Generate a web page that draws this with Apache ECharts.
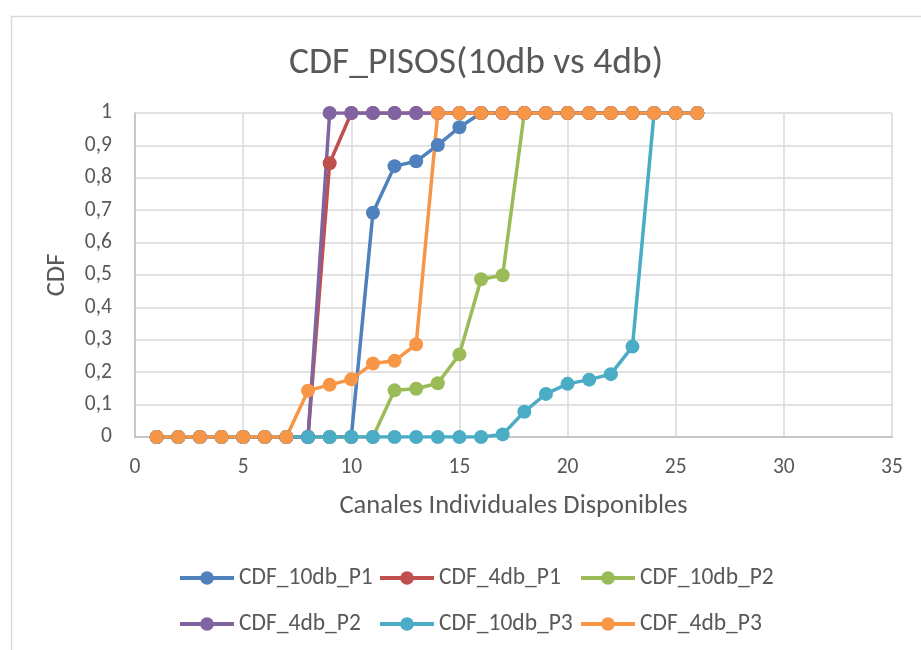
<!DOCTYPE html>
<html>
<head>
<meta charset="utf-8">
<script src="https://cdn.jsdelivr.net/npm/echarts@6/dist/echarts.min.js"></script>
<style>html,body{margin:0;padding:0;background:#fff}#c{width:921px;height:650px}</style>
</head>
<body>
<div id="c"></div>
<script>
var xValues = [1,2,3,4,5,6,7,8,9,10,11,12,13,14,15,16,17,18,19,20,21,22,23,24,25,26];
var cdf10dbP1 = [0,0,0,0,0,0,0,0,0,0,0.692,0.836,0.851,0.901,0.956,1,1,1,1,1,1,1,1,1,1,1];
var cdf4dbP1  = [0,0,0,0,0,0,0,0,0.845,1,1,1,1,1,1,1,1,1,1,1,1,1,1,1,1,1];
var cdf10dbP2 = [0,0,0,0,0,0,0,0,0,0,0,0.144,0.149,0.166,0.255,0.487,0.499,1,1,1,1,1,1,1,1,1];
var cdf4dbP2  = [0,0,0,0,0,0,0,0,1,1,1,1,1,1,1,1,1,1,1,1,1,1,1,1,1,1];
var cdf10dbP3 = [0,0,0,0,0,0,0,0,0,0,0,0,0,0,0,0,0.008,0.078,0.133,0.164,0.177,0.194,0.279,1,1,1];
var cdf4dbP3  = [0,0,0,0,0,0,0,0.143,0.161,0.178,0.227,0.235,0.286,1,1,1,1,1,1,1,1,1,1,1,1,1];
var seriesNames = ['CDF_10db_P1','CDF_4db_P1','CDF_10db_P2','CDF_4db_P2','CDF_10db_P3','CDF_4db_P3'];
var seriesData = [cdf10dbP1, cdf4dbP1, cdf10dbP2, cdf4dbP2, cdf10dbP3, cdf4dbP3];
var colors = ['#4f81bd','#c0504d','#9bbb59','#8064a2','#4bacc6','#f79646'];
var titleText = 'CDF_PISOS(10db vs 4db)';
var xAxisName = 'Canales Individuales Disponibles';
var yAxisName = 'CDF';

var FONT = "Carlito, Calibri, 'Open Sans', sans-serif";
var TXT = '#595959';

function pairs(arr){ return xValues.map(function(x,i){ return [x, arr[i]]; }); }

var series = seriesNames.map(function(n,i){
  return {
    name: n, type: 'line', data: pairs(seriesData[i]),
    symbol: 'circle', symbolSize: 14, showAllSymbol: true,
    lineStyle: { width: 3.5, color: colors[i] },
    itemStyle: { color: colors[i] },
    animation: false
  };
});

var legendLefts = [178, 378, 579];
var legendTops = [566, 612];
var legends = seriesNames.map(function(n,i){
  return {
    data: [n], left: legendLefts[i % 3], top: legendTops[Math.floor(i / 3)],
    itemWidth: 54, itemHeight: 17, itemGap: 0, padding: 0,
    lineStyle: { width: 4 },
    textStyle: { color: TXT, fontSize: 23.5, fontFamily: FONT, lineHeight: 24, padding: [0,0,0,0] }
  };
});

var chart = echarts.init(document.getElementById('c'), null, {renderer:'canvas'});
chart.setOption({
  color: colors,
  animation: false,
  title: {
    text: titleText, left: 284, top: 39,
    textStyle: { color: TXT, fontSize: 37.5, fontWeight: 'normal', fontFamily: FONT, lineHeight: 40 }
  },
  graphic: [{
    type: 'rect', left: 9, top: 14, silent: true,
    shape: { width: 1000, height: 1000 },
    style: { fill: 'none', stroke: '#d9d9d9', lineWidth: 1.5 }
  }],
  legend: legends,
  grid: { left: 135, right: 29, top: 113, bottom: 213, containLabel: false },
  xAxis: {
    type: 'value', min: 0, max: 35, interval: 5,
    name: xAxisName, nameLocation: 'middle', nameGap: 56,
    nameTextStyle: { color: TXT, fontSize: 26.5, fontFamily: FONT },
    axisLine: { show: true, lineStyle: { color: '#bfbfbf', width: 1.5 } },
    axisTick: { show: false },
    axisLabel: { color: TXT, fontSize: 21.5, fontFamily: FONT, margin: 20 },
    splitLine: { show: true, lineStyle: { color: '#d9d9d9', width: 1.5 } }
  },
  yAxis: {
    type: 'value', min: 0, max: 1, interval: 0.1,
    name: yAxisName, nameLocation: 'middle', nameGap: 64, nameRotate: 90,
    nameTextStyle: { color: TXT, fontSize: 26.5, fontFamily: FONT },
    axisLine: { show: true, lineStyle: { color: '#bfbfbf', width: 1.5 } },
    axisTick: { show: false },
    axisLabel: {
      color: TXT, fontSize: 21.5, fontFamily: FONT, margin: 23,
      formatter: function(v){ return (Math.round(v*10)/10).toString().replace('.', ','); }
    },
    splitLine: { show: true, lineStyle: { color: '#d9d9d9', width: 1.5 } }
  },
  series: series
});
</script>
</body>
</html>
